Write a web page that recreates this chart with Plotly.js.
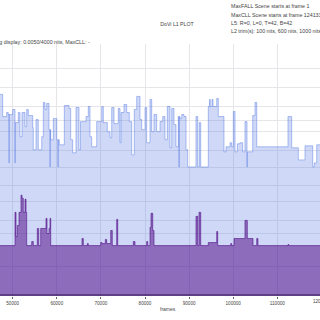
<!DOCTYPE html>
<html>
<head>
<meta charset="utf-8">
<script src="https://cdn.plot.ly/plotly-3.0.1.min.js"></script>
<style>html,body{margin:0;padding:0;overflow:hidden;background:#fff;}#chart{width:320px;height:320px;}</style>
</head>
<body>
<div id="chart"></div>
<script>
// Max brightness per scene (PQ code value 0..1), step starts in frames
const maxFrames = [47120,47730,48640,49000,49160,49220,50000,50520,50580,51270,51660,52110,52790,53170,53540,54530,54670,55280,55800,56580,56940,57320,57710,58230,58460,58520,58620,59210,59980,60270,60330,60570,61700,62770,63150,63600,64350,65030,65370,66620,67140,67530,67910,69050,70180,70540,71450,72060,72450,72970,73950,74330,74560,75240,75850,76440,76980,77570,78120,78870,79250,80000,80380,81130,81520,82040,82650,83400,84010,84530,85060,85670,86050,86570,87030,87550,87710,87770,87940,88320,88840,89300,89680,91560,91950,92310,92630,94350,94620,94810,95190,95420,96260,96620,97910,98370,99270,99660,100020,100410,100930,101540,102150,102670,103130,103200,104420,104940,105330,112420,113260,114760,116280,118030,118390,118930,121000];
const maxPQ = [0.800,0.712,0.728,0.720,0.528,0.720,0.740,0.528,0.688,0.728,0.632,0.728,0.672,0.740,0.716,0.668,0.580,0.700,0.580,0.632,0.768,0.740,0.764,0.660,0.512,0.660,0.620,0.704,0.620,0.512,0.620,0.600,0.756,0.744,0.620,0.568,0.748,0.580,0.692,0.712,0.752,0.632,0.592,0.692,0.752,0.688,0.652,0.628,0.748,0.684,0.744,0.608,0.728,0.760,0.728,0.692,0.560,0.740,0.792,0.700,0.660,0.748,0.608,0.780,0.652,0.720,0.652,0.692,0.712,0.620,0.752,0.588,0.744,0.680,0.592,0.712,0.512,0.712,0.704,0.720,0.712,0.580,0.512,0.712,0.512,0.688,0.512,0.752,0.780,0.752,0.780,0.752,0.784,0.712,0.572,0.592,0.608,0.592,0.732,0.572,0.604,0.608,0.572,0.692,0.512,0.572,0.716,0.768,0.592,0.712,0.588,0.540,0.596,0.512,0.528,0.600,0.600];

// Average brightness per scene (PQ code value)
const avgFrames = [47120,50520,50750,51040,51430,51880,52110,52400,52790,53020,53170,54310,54670,55580,55900,56350,57550,57780,58230,58460,58620,65710,66010,66920,67140,69950,70250,71000,71310,72220,72580,73580,73810,77350,77730,80380,80610,81130,81360,81750,82040,91560,91950,92240,92630,94350,96260,96480,99430,99660,100180,102670,103200,104490,105330,105620,112420,112650,121000];
const avgPQ = [0.200,0.332,0.236,0.280,0.332,0.400,0.388,0.332,0.384,0.332,0.200,0.216,0.200,0.268,0.200,0.268,0.308,0.248,0.268,0.308,0.200,0.228,0.200,0.208,0.200,0.212,0.208,0.224,0.208,0.260,0.200,0.304,0.200,0.216,0.200,0.216,0.200,0.272,0.328,0.260,0.200,0.316,0.200,0.332,0.200,0.212,0.256,0.200,0.208,0.200,0.228,0.300,0.228,0.200,0.228,0.200,0.204,0.200,0.200];

// Minimum brightness (PQ code value)
const minFrames = [47120,121000];
const minPQ = [0.004,0.004];

// Grid positions in nits, x tick values in frames
const nitsTicks = [0.5,5,10,25,50,100,200,400,600,1000,2000,4000];
const frameTicks = [50000,60000,70000,80000,90000,100000,110000];

function pq(n){
  const m1=0.1593017578125,m2=78.84375,c1=0.8359375,c2=18.8515625,c3=18.6875;
  const y=Math.pow(n/10000,m1);
  return Math.pow((c1+c2*y)/(1+c3*y),m2);
}

const FONT = "Liberation Sans, Arial, sans-serif";
const TXT = "#444";

const traces = [
  {x:maxFrames,y:maxPQ,type:'scatter',mode:'lines',line:{shape:'hv',color:'rgba(65,105,225,0.4)',width:1},fill:'tozeroy',fillcolor:'rgba(65,105,225,0.25)',hoverinfo:'skip'},
  {x:avgFrames,y:avgPQ,type:'scatter',mode:'lines',line:{shape:'hv',color:'rgba(75,0,130,0.55)',width:1},fill:'tozeroy',fillcolor:'rgba(75,0,130,0.5)',hoverinfo:'skip'},
  {x:minFrames,y:minPQ,type:'scatter',mode:'lines',line:{shape:'hv',color:'rgba(40,10,70,0.9)',width:1},hoverinfo:'skip'}
];

function px2x(px){return px/320;}
function py2y(py){return (296-py)/252;}

const ann = (text,px,py,anchor,size)=>({text:text,xref:'paper',yref:'paper',x:px2x(px),y:py2y(py),xanchor:anchor,yanchor:'middle',showarrow:false,font:{family:FONT,size:size,color:TXT}});

const layout = {
  width:320,height:320,
  margin:{l:0,r:0,t:44,b:24,pad:0},
  paper_bgcolor:'#fff',plot_bgcolor:'#fff',
  showlegend:false,
  font:{family:FONT,color:TXT,size:5},
  title:{text:'DoVi L1 PLOT',x:177/320,xanchor:'center',y:1-24.3/320,yanchor:'middle',font:{family:FONT,size:5.2,color:TXT}},
  xaxis:{range:[47120,119680],tickvals:frameTicks,tickformat:'d',showgrid:true,gridcolor:'#e6e6ea',gridwidth:1,zeroline:false,showline:false,ticks:'outside',ticklen:2,tickcolor:'#666',tickfont:{family:FONT,size:4.6,color:TXT}},
  yaxis:{range:[0,1],tickvals:nitsTicks.map(pq),showticklabels:false,showgrid:true,gridcolor:'#e6e6ea',gridwidth:1,zeroline:false,showline:false,ticks:''},
  annotations:[
    ann('MaxFALL Scene starts at frame 1',229,6,'left',5.3),
    ann('MaxCLL Scene starts at frame 124133',229,14.7,'left',5.3),
    ann('L5: R=0, L=0, T=42, B=42',229,22.7,'left',5.3),
    ann('L2 trim(s): 100 nits, 600 nits, 1000 nits',229,31,'left',5.3),
    ann('Mastering display: 0.0050/4000 nits, MaxCLL: -',92,42.3,'right',5.3),
    ann('frames',168,309,'center',5),
    ann('120000',320+1.4,301,'center',4.6)
  ]
};

Plotly.newPlot('chart',traces,layout,{staticPlot:true,displayModeBar:false});
</script>
</body>
</html>
